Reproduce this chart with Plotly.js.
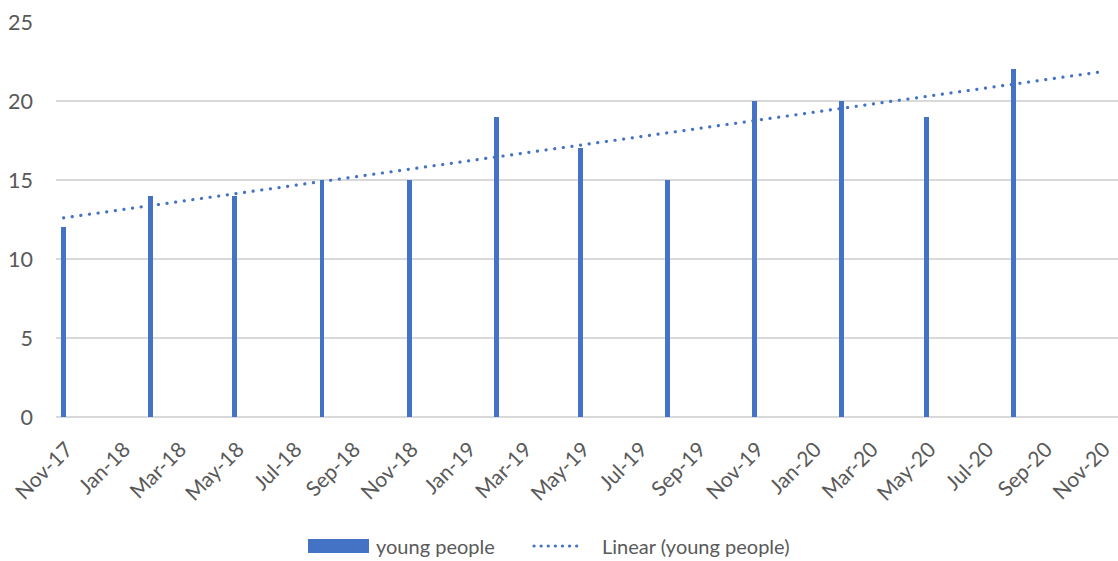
<!DOCTYPE html>
<html>
<head>
<meta charset="utf-8">
<script src="https://cdn.plot.ly/plotly-3.0.1.min.js"></script>
<style>
  html, body { margin: 0; padding: 0; background: #fff; }
  #chart { width: 1118px; height: 561px; }
  .trend-line path.js-line { stroke-linecap: round !important; }
</style>
</head>
<body>
<div id="chart"></div>
<script>
// Quarterly counts of young people
const months = ['2017-11-01', '2018-02-01', '2018-05-01', '2018-08-01', '2018-11-01', '2019-02-01',
                '2019-05-01', '2019-08-01', '2019-11-01', '2020-02-01', '2020-05-01', '2020-08-01'];
const youngPeople = [12, 14, 14, 15, 15, 19, 17, 15, 20, 20, 19, 22];
const seriesName = 'young people';
const trendName = 'Linear (young people)';
const trendEnd = '2020-11-01';   // trendline projected one period forward

const blue = '#4472C4';
const textGrey = '#595959';
const gridGrey = '#d9d9d9';
const font = 'Lato, "Open Sans", sans-serif';

// Least-squares linear trend over the date values
const ms = s => new Date(s + 'T00:00:00Z').getTime();
const xs = months.map(ms);
const n = xs.length;
const mx = xs.reduce((a, b) => a + b, 0) / n;
const my = youngPeople.reduce((a, b) => a + b, 0) / n;
let sxy = 0, sxx = 0;
for (let i = 0; i < n; i++) { sxy += (xs[i] - mx) * (youngPeople[i] - my); sxx += (xs[i] - mx) ** 2; }
const slope = sxy / sxx;
const icpt = my - slope * mx;
const trendX = [months[0], trendEnd];
const trendY = trendX.map(d => icpt + slope * ms(d));

const DAY = 86400000;

const bars = {
  type: 'bar', x: months, y: youngPeople, name: seriesName,
  width: 5.2 * DAY, marker: { color: blue }, hoverinfo: 'x+y', showlegend: false
};
const trend = {
  type: 'scatter', mode: 'lines', x: trendX, y: trendY, name: trendName,
  line: { color: blue, width: 3.2, dash: '0.1px,8.6px' }, hoverinfo: 'skip', showlegend: false
};

// Plot area in pixels, used to place the hand-built legend
const W = 1118, H = 561, L = 56, R = 0, T = 22, B = 144;
const pw = W - L - R, ph = H - T - B;
const px = x => (x - L) / pw;
const py = y => (H - B - y) / ph;
const legY = 546;
const legFont = { family: font, size: 20, color: textGrey };

const layout = {
  width: W, height: H,
  margin: { l: L, r: R, t: T, b: B, pad: 0 },
  paper_bgcolor: '#fff', plot_bgcolor: '#fff',
  font: { family: font, color: textGrey, size: 21 },
  bargap: 0,
  xaxis: {
    type: 'date',
    range: ['2017-10-24', '2020-11-19'],
    tick0: '2017-11-01', dtick: 'M2', tickformat: '%b-%y',
    tickangle: -45, ticks: '', showgrid: false, zeroline: false,
    showline: false, ticklabelshift: 3, ticklabelstandoff: 15,
    ticklabeloverflow: 'allow',
    tickfont: { family: font, size: 21, color: textGrey }
  },
  yaxis: {
    range: [0, 25], dtick: 5, ticks: '',
    showgrid: true, gridcolor: gridGrey, gridwidth: 1.3,
    zeroline: true, zerolinecolor: gridGrey, zerolinewidth: 1.6,
    showline: false, ticklabelstandoff: 22,
    tickfont: { family: font, size: 21.5, color: textGrey }
  },
  showlegend: false,
  shapes: [
    { type: 'rect', xref: 'paper', yref: 'paper',
      x0: px(308), x1: px(369), y0: py(553), y1: py(539),
      fillcolor: blue, line: { width: 0 } },
    { type: 'line', xref: 'paper', yref: 'paper',
      x0: px(534), x1: px(583), y0: py(legY), y1: py(legY),
      line: { color: blue, width: 3.2, dash: '0.1px,7px' } }
  ],
  annotations: [
    { xref: 'paper', yref: 'paper', x: px(374), y: py(legY), xanchor: 'left', yanchor: 'middle',
      text: seriesName, showarrow: false, font: legFont },
    { xref: 'paper', yref: 'paper', x: px(600), y: py(legY), xanchor: 'left', yanchor: 'middle',
      text: trendName, showarrow: false, font: legFont }
  ]
};

Plotly.newPlot('chart', [bars, trend], layout, { displayModeBar: false, staticPlot: true }).then(gd => {
  gd.querySelectorAll('.scatterlayer .trace').forEach(t => t.classList.add('trend-line'));
  gd.querySelectorAll('.scatterlayer path.js-line').forEach(p => p.style.strokeLinecap = 'round');
  gd.querySelectorAll('.layer-above path, .shapelayer path').forEach(p => p.style.strokeLinecap = 'round');
});
</script>
</body>
</html>
